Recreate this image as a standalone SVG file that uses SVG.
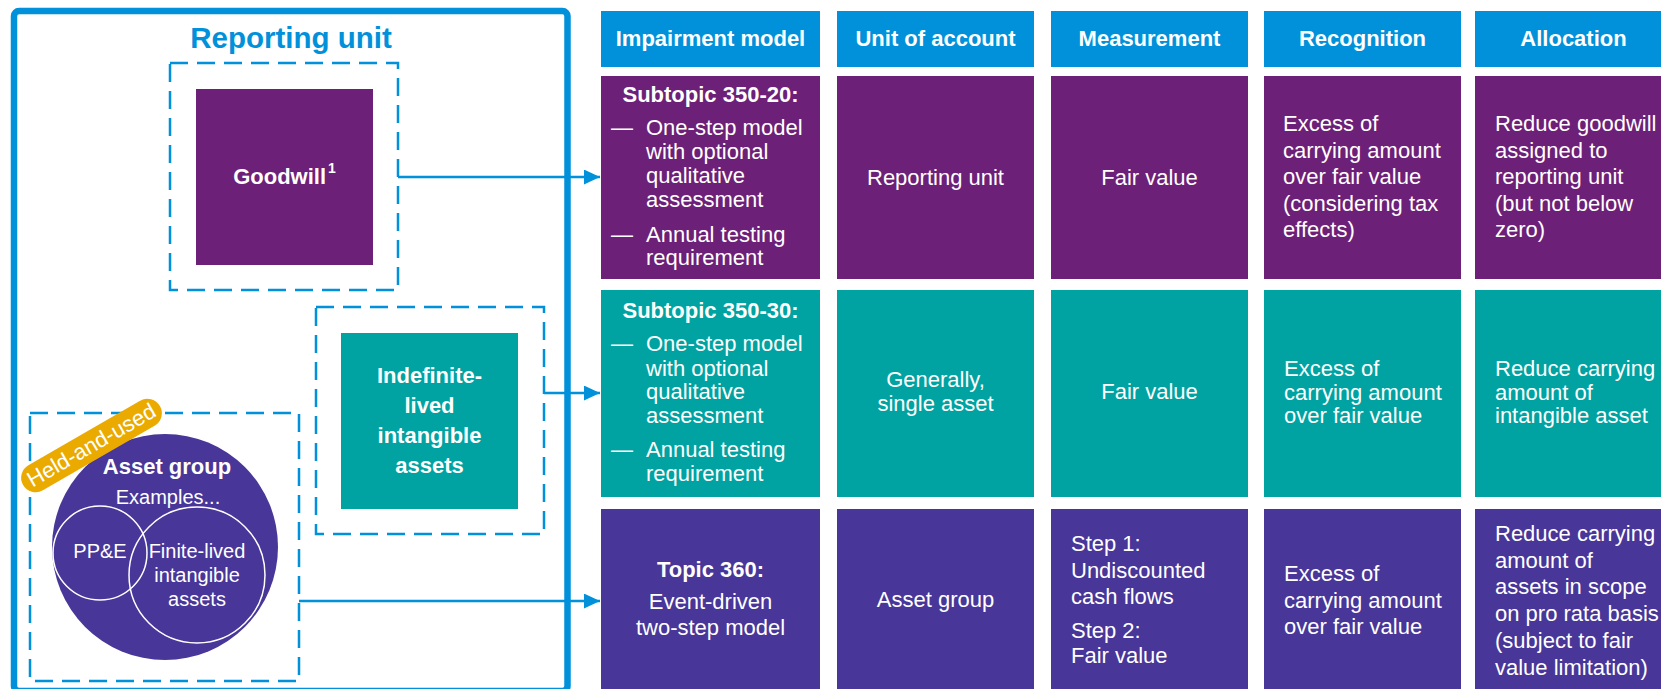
<svg xmlns="http://www.w3.org/2000/svg" width="1661" height="689" viewBox="0 0 1661 689">
<defs>
<style>
text{font-family:"Liberation Sans",Arial,Helvetica,sans-serif;fill:#fff;font-size:22px}
.b{font-weight:bold}
.m{text-anchor:middle}
.title{fill:#0091DA;font-weight:bold;font-size:29.5px;text-anchor:middle}
.dash{fill:none;stroke:#0091DA;stroke-width:2.5;stroke-dasharray:18 9}
.conn{stroke:#0091DA;stroke-width:2.5;fill:none;marker-end:url(#ah)}
.purple{fill:#6D2077}
.teal{fill:#00A3A1}
.violet{fill:#483698}
.blue{fill:#0091DA}
.ring{fill:none;stroke:#fff;stroke-width:1.5}
.sm{font-size:20px}
</style>
<marker id="ah" markerUnits="userSpaceOnUse" markerWidth="16" markerHeight="15" refX="15" refY="7" orient="auto" viewBox="0 0 15 14"><path d="M0,0 L15,7 L0,14 Z" fill="#0091DA"/></marker>
</defs>

<g id="reporting-unit">
<rect x="14" y="11" width="553.5" height="680" rx="5" fill="none" stroke="#0091DA" stroke-width="6.5"/>
<text class="title" x="291" y="48">Reporting unit</text>
</g>

<g id="goodwill">
<rect class="dash" x="170" y="63" width="228" height="227"/>
<rect class="purple" x="196" y="89" width="177" height="176"/>
<text class="b m" x="284.5" y="184" font-size="24">Goodwill<tspan font-size="14" dx="2" dy="-11">1</tspan></text>
</g>

<g id="indefinite-lived">
<rect class="dash" x="316" y="307" width="228" height="227"/>
<rect class="teal" x="341" y="333" width="177" height="176"/>
<text class="b m" x="429.5" y="383" font-size="25">Indefinite-</text>
<text class="b m" x="429.5" y="413" font-size="25">lived</text>
<text class="b m" x="429.5" y="443" font-size="25">intangible</text>
<text class="b m" x="429.5" y="473" font-size="25">assets</text>
</g>

<g id="asset-group">
<rect class="dash" x="30" y="413" width="269" height="268"/>
<circle class="violet" cx="165" cy="547" r="113"/>
<text class="b m" x="167" y="474" font-size="24.5">Asset group</text>
<text class="m sm" x="168" y="504">Examples...</text>
<circle class="ring" cx="100" cy="553" r="47"/>
<circle class="ring" cx="197" cy="575" r="68"/>
<text class="m sm" x="100" y="558">PP&amp;E</text>
<text class="m sm" x="197" y="558">Finite-lived</text>
<text class="m sm" x="197" y="582">intangible</text>
<text class="m sm" x="197" y="606">assets</text>
<g transform="translate(91.5,445.5) rotate(-30)">
<rect x="-79" y="-14.5" width="158" height="29" rx="14.5" fill="#EAAA00"/>
<text class="m" x="0" y="7" font-size="19">Held-and-used</text>
</g>
</g>

<g id="connectors">
<line class="conn" x1="398" y1="177" x2="600" y2="177"/>
<line class="conn" x1="544" y1="393" x2="600" y2="393"/>
<line class="conn" x1="299" y1="601" x2="600" y2="601"/>
</g>

<g id="headers">
<g id="h-impairment"><rect class="blue" x="601" y="11" width="219" height="56"/><text class="b m" x="710.5" y="46">Impairment model</text></g>
<g id="h-unit"><rect class="blue" x="837" y="11" width="197" height="56"/><text class="b m" x="935.5" y="46">Unit of account</text></g>
<g id="h-measurement"><rect class="blue" x="1051" y="11" width="197" height="56"/><text class="b m" x="1149.5" y="46">Measurement</text></g>
<g id="h-recognition"><rect class="blue" x="1264" y="11" width="197" height="56"/><text class="b m" x="1362.5" y="46">Recognition</text></g>
<g id="h-allocation"><rect class="blue" x="1475" y="11" width="197" height="56"/><text class="b m" x="1573.5" y="46">Allocation</text></g>
</g>

<g id="row-goodwill">
<g id="r1-model"><rect class="purple" x="601" y="76" width="219" height="203"/>
<text class="b m" x="710.5" y="102">Subtopic 350-20:</text>
<text x="611" y="135">—</text><text x="646" y="135">One-step model</text>
<text x="646" y="159">with optional</text>
<text x="646" y="183">qualitative</text>
<text x="646" y="207">assessment</text>
<text x="611" y="242">—</text><text x="646" y="242">Annual testing</text>
<text x="646" y="265">requirement</text>
</g>
<g id="r1-unit"><rect class="purple" x="837" y="76" width="197" height="203"/><text class="m" x="935.5" y="185">Reporting unit</text></g>
<g id="r1-measurement"><rect class="purple" x="1051" y="76" width="197" height="203"/><text class="m" x="1149.5" y="185">Fair value</text></g>
<g id="r1-recognition"><rect class="purple" x="1264" y="76" width="197" height="203"/>
<text x="1283" y="131">Excess of</text>
<text x="1283" y="157.5">carrying amount</text>
<text x="1283" y="184">over fair value</text>
<text x="1283" y="210.5">(considering tax</text>
<text x="1283" y="237">effects)</text>
</g>
<g id="r1-allocation"><rect class="purple" x="1475" y="76" width="197" height="203"/>
<text x="1495" y="131">Reduce goodwill</text>
<text x="1495" y="157.5">assigned to</text>
<text x="1495" y="184">reporting unit</text>
<text x="1495" y="210.5">(but not below</text>
<text x="1495" y="237">zero)</text>
</g>
</g>

<g id="row-indefinite">
<g id="r2-model"><rect class="teal" x="601" y="290" width="219" height="207"/>
<text class="b m" x="710.5" y="317.5">Subtopic 350-30:</text>
<text x="611" y="351">—</text><text x="646" y="351">One-step model</text>
<text x="646" y="375.5">with optional</text>
<text x="646" y="399">qualitative</text>
<text x="646" y="423">assessment</text>
<text x="611" y="457">—</text><text x="646" y="457">Annual testing</text>
<text x="646" y="481">requirement</text>
</g>
<g id="r2-unit"><rect class="teal" x="837" y="290" width="197" height="207"/>
<text class="m" x="935.5" y="387">Generally,</text>
<text class="m" x="935.5" y="411">single asset</text>
</g>
<g id="r2-measurement"><rect class="teal" x="1051" y="290" width="197" height="207"/><text class="m" x="1149.5" y="398.5">Fair value</text></g>
<g id="r2-recognition"><rect class="teal" x="1264" y="290" width="197" height="207"/>
<text x="1284" y="376">Excess of</text>
<text x="1284" y="399.5">carrying amount</text>
<text x="1284" y="423">over fair value</text>
</g>
<g id="r2-allocation"><rect class="teal" x="1475" y="290" width="197" height="207"/>
<text x="1495" y="376">Reduce carrying</text>
<text x="1495" y="399.5">amount of</text>
<text x="1495" y="423">intangible asset</text>
</g>
</g>

<g id="row-asset-group">
<g id="r3-model"><rect class="violet" x="601" y="509" width="219" height="190"/>
<text class="b m" x="710.5" y="577">Topic 360:</text>
<text class="m" x="710.5" y="609">Event-driven</text>
<text class="m" x="710.5" y="635">two-step model</text>
</g>
<g id="r3-unit"><rect class="violet" x="837" y="509" width="197" height="190"/><text class="m" x="935.5" y="607">Asset group</text></g>
<g id="r3-measurement"><rect class="violet" x="1051" y="509" width="197" height="190"/>
<text x="1071" y="551">Step 1:</text>
<text x="1071" y="578">Undiscounted</text>
<text x="1071" y="604">cash flows</text>
<text x="1071" y="638">Step 2:</text>
<text x="1071" y="663">Fair value</text>
</g>
<g id="r3-recognition"><rect class="violet" x="1264" y="509" width="197" height="190"/>
<text x="1284" y="581">Excess of</text>
<text x="1284" y="607.5">carrying amount</text>
<text x="1284" y="634">over fair value</text>
</g>
<g id="r3-allocation"><rect class="violet" x="1475" y="509" width="197" height="190"/>
<text x="1495" y="541">Reduce carrying</text>
<text x="1495" y="567.5">amount of</text>
<text x="1495" y="594">assets in scope</text>
<text x="1495" y="621">on pro rata basis</text>
<text x="1495" y="648">(subject to fair</text>
<text x="1495" y="674.5">value limitation)</text>
</g>
</g>
</svg>
